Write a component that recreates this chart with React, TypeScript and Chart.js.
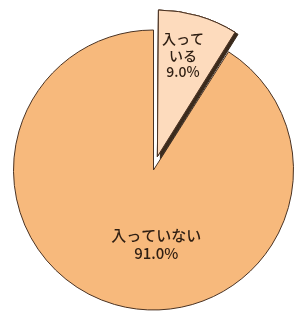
import React, { useEffect, useRef } from "react";
import { Chart, registerables } from "chart.js";

Chart.register(...registerables);

const categories = ["入っている", "入っていない"];
const values = [9.0, 91.0];
const labelLines = [["入って", "いる", "9.0%"], ["入っていない", "91.0%"]];
const colors = ["#FDDBBD", "#F7B97C"];

const piePlugin = {
  id: "piePlugin",
  afterDatasetsDraw(chart: any) {
    const ctx = chart.ctx;
    const meta = chart.getDatasetMeta(0);
    const small = meta.data[0];
    ctx.save();
    ctx.shadowColor = "#3a2a1c";
    ctx.shadowOffsetX = 3;
    ctx.shadowOffsetY = 2;
    ctx.shadowBlur = 0;
    small.draw(ctx);
    ctx.restore();
    ctx.save();
    small.draw(ctx);
    ctx.restore();

    const big = meta.data[1];
    const cx = big.x;
    const cy = big.y;
    const R = big.outerRadius;
    ctx.save();
    ctx.fillStyle = "#2e1e12";
    ctx.textAlign = "center";
    ctx.textBaseline = "middle";
    ctx.font = '500 14px "Noto Sans CJK JP", sans-serif';
    const sx = cx + R * 0.21;
    const sy = cy - R * 0.82;
    labelLines[0].forEach((t, i) => ctx.fillText(t, sx, sy + (i - 1) * 16.5));
    ctx.font = '500 15px "Noto Sans CJK JP", sans-serif';
    const bx = cx + R * 0.02;
    const by = cy + R * 0.53;
    labelLines[1].forEach((t, i) => ctx.fillText(t, bx, by + (i - 0.5) * 18));
    ctx.restore();
  },
};

export default function App() {
  const ref = useRef<HTMLCanvasElement>(null);
  useEffect(() => {
    const chart = new Chart(ref.current!, {
      type: "pie",
      data: {
        labels: categories,
        datasets: [
          {
            data: values,
            backgroundColor: colors,
            borderColor: "#4a3222",
            borderWidth: 1,
            hoverBorderWidth: 1,
            offset: [56, 0],
            hoverOffset: 0,
          } as any,
        ],
      },
      options: {
        animation: false,
        responsive: false,
        radius: 140,
        layout: { padding: { left: 11, right: 0, top: 29, bottom: 0 } },
        plugins: { legend: { display: false }, tooltip: { enabled: false } },
        events: [],
      } as any,
      plugins: [piePlugin],
    });
    return () => chart.destroy();
  }, []);
  return (
    <div style={{ position: "fixed", left: 0, top: 0, width: 296, height: 311, overflow: "hidden", background: "#fff" }}>
      <canvas ref={ref} width={296} height={311} style={{ width: 296, height: 311, display: "block" }} />
    </div>
  );
}
